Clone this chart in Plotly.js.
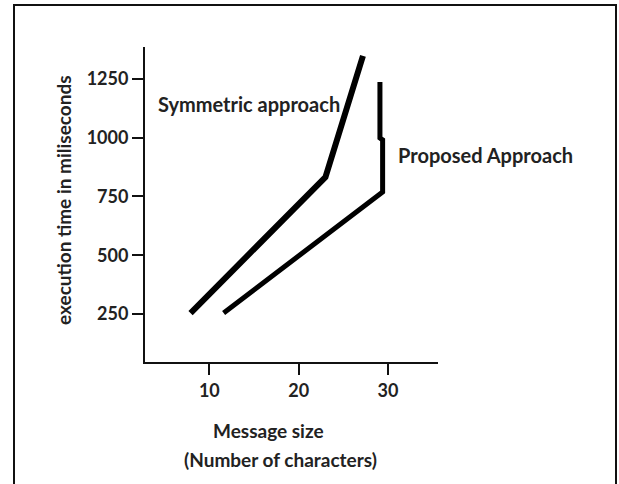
<!DOCTYPE html>
<html>
<head>
<meta charset="utf-8">
<script src="https://cdn.plot.ly/plotly-3.0.1.min.js"></script>
<style>
  html, body { margin: 0; padding: 0; background: #fff; }
  #chart { width: 619px; height: 484px; }
</style>
</head>
<body>
<div id="chart"></div>
<script>
// Data
const symmetricX = [7.9, 23.0, 27.2];
const symmetricY = [254, 832, 1347];
const proposedX  = [11.6, 29.4, 29.4, 29.1, 29.1];
const proposedY  = [254, 769, 990, 998, 1236];
const xTicks = [10, 20, 30];
const yTicks = [250, 500, 750, 1000, 1250];
const seriesNames = ["Symmetric approach", "Proposed Approach"];

const ink = "#222";
const font = "Lato, 'Open Sans', sans-serif";

const traces = [
  { x: symmetricX, y: symmetricY, name: seriesNames[0], mode: "lines",
    line: { color: "#000", width: 6 }, showlegend: false, hoverinfo: "skip" },
  { x: proposedX, y: proposedY, name: seriesNames[1], mode: "lines",
    line: { color: "#000", width: 5 }, showlegend: false, hoverinfo: "skip" }
];

const pl = 145, pr = 438, pt = 47, pb = 362;
const pw = pr - pl, ph = pb - pt;
const px = v => (v - pl) / pw;
const py = v => (pb - v) / ph;

const tf = { family: font, size: 18, color: ink, weight: "bold" };
const lf = { family: font, size: 19, color: ink, weight: "bold" };
const sf = { family: font, size: 20, color: ink, weight: "bold" };

const layout = {
  width: 619, height: 484,
  margin: { l: pl, r: 619 - pr, t: pt, b: 484 - pb },
  paper_bgcolor: "#fff", plot_bgcolor: "#fff",
  font: { family: font, color: ink, size: 15 },
  showlegend: false,
  xaxis: {
    range: [2.8, 35.6], tickvals: xTicks, ticktext: xTicks.map(String),
    showgrid: false, zeroline: false, showline: true, linecolor: "#111", linewidth: 2,
    ticks: "outside", ticklen: 11, tickwidth: 2, tickcolor: "#111",
    tickfont: tf
  },
  yaxis: {
    range: [46, 1385], tickvals: yTicks, ticktext: yTicks.map(String),
    showgrid: false, zeroline: false, showline: true, linecolor: "#111", linewidth: 2,
    ticks: "outside", ticklen: 11, tickwidth: 2, tickcolor: "#111",
    tickfont: tf
  },
  shapes: [
    { type: "rect", xref: "paper", yref: "paper",
      x0: px(14), x1: px(616), y0: py(495), y1: py(5),
      line: { color: "#111", width: 2 }, fillcolor: "rgba(0,0,0,0)", layer: "below" }
  ],
  annotations: [
    { text: seriesNames[0], x: 24.9, y: 1143, xref: "x", yref: "y",
      xanchor: "right", yanchor: "middle", showarrow: false, font: sf },
    { text: seriesNames[1], x: 30.9, y: 926, xref: "x", yref: "y",
      xanchor: "left", yanchor: "middle", showarrow: false, font: sf },
    { text: "execution time in miliseconds", xref: "paper", yref: "paper",
      x: px(63), y: py(200), textangle: -90, xanchor: "center", yanchor: "middle",
      showarrow: false, font: lf },
    { text: "Message size", xref: "paper", yref: "paper",
      x: px(268), y: py(430), xanchor: "center", yanchor: "middle",
      showarrow: false, font: lf },
    { text: "(Number of characters)", xref: "paper", yref: "paper",
      x: px(280), y: py(459), xanchor: "center", yanchor: "middle",
      showarrow: false, font: lf }
  ]
};

Plotly.newPlot("chart", traces, layout, { staticPlot: true, displayModeBar: false });
</script>
</body>
</html>
